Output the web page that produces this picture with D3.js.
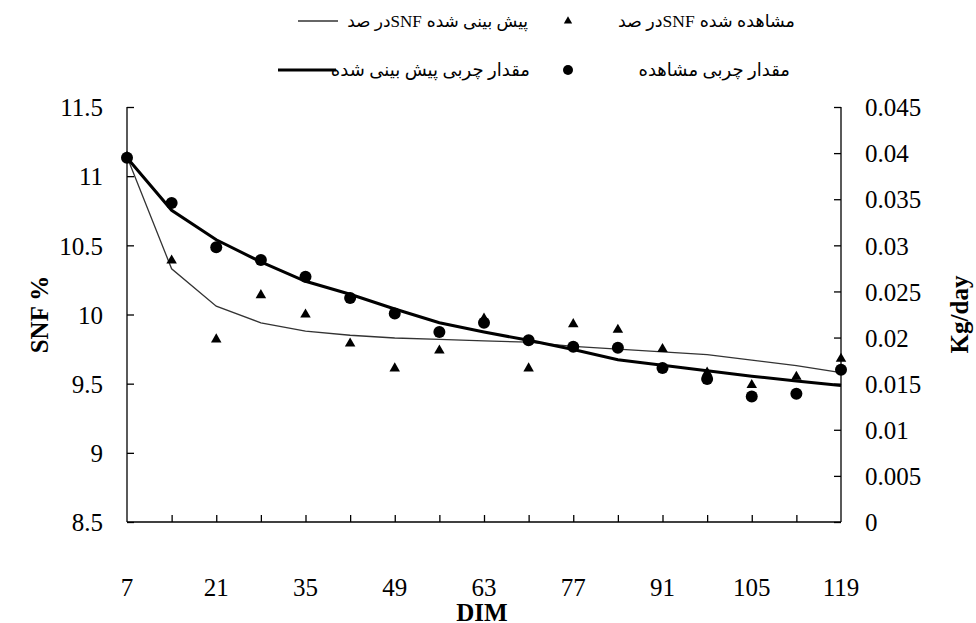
<!DOCTYPE html>
<html><head><meta charset="utf-8">
<script src="https://cdn.jsdelivr.net/npm/d3@7"></script>
<style>
body{margin:0;background:#fff}
svg text{font-family:"Liberation Serif","Times New Roman","DejaVu Sans",serif;fill:#000}
</style>
</head><body>
<svg id="chart" width="976" height="623"></svg>
<script>
// ---- data ----
const days = [7,14,21,28,35,42,49,56,63,70,77,84,91,98,105,112,119];
const snfObserved  = [11.14,10.39,9.82,10.14,10.0,9.79,9.61,9.74,9.97,9.61,9.93,9.89,9.75,9.58,9.49,9.55,9.68];
const snfPredicted = [11.14,10.33,10.06,9.94,9.88,9.85,9.83,9.82,9.81,9.80,9.77,9.75,9.73,9.71,9.67,9.63,9.58];
const fatObserved  = [0.0395,0.0346,0.0298,0.0284,0.0266,0.0243,0.0226,0.0206,0.0216,0.0197,0.0190,0.0189,0.0167,0.0155,0.0136,0.0139,0.0165];
const fatPredicted = [0.0395,0.0338,0.0306,0.0282,0.0261,0.0247,0.0231,0.0216,0.0206,0.0197,0.0187,0.0176,0.0170,0.0164,0.0158,0.0153,0.0148];
const xTickValues = [14,21,28,35,42,49,56,63,70,77,84,91,98,105,112];
const xTickLabels = ["7","21","35","49","63","77","91","105","119"];
const yLeftTicks  = ["8.5","9","9.5","10","10.5","11","11.5"];
const yRightTicks = ["0","0.005","0.01","0.015","0.02","0.025","0.03","0.035","0.04","0.045"];
const legendLabels = ["مشاهده شده SNFدر صد","پیش بینی شده SNFدر صد","مقدار چربی مشاهده","مقدار چربی پیش بینی شده"];
const axisTitles = {left:"SNF %", right:"Kg/day", bottom:"DIM"};

// ---- layout ----
const L = 127, R = 841, T = 107, B = 522;
const svg = d3.select("#chart");
const x = d3.scaleLinear().domain([7,119]).range([L,R]);
const yL = d3.scaleLinear().domain([8.5,11.5]).range([B,T]);
const yR = d3.scaleLinear().domain([0,0.045]).range([B,T]);

// axes
const axisColor = "#000";
const leftAxis = d3.axisLeft(yL).tickValues(yLeftTicks.map(Number)).tickSize(-7).tickPadding(24)
  .tickFormat((d,i)=>yLeftTicks[i]);
const gl = svg.append("g").attr("transform",`translate(${L},0)`).call(leftAxis);
const rightAxis = d3.axisRight(yR).tickValues(yRightTicks.map(Number)).tickSize(-7).tickPadding(24)
  .tickFormat((d,i)=>yRightTicks[i]);
const gr = svg.append("g").attr("transform",`translate(${R},0)`).call(rightAxis);
const bottomAxis = d3.axisBottom(x).tickValues(xTickValues).tickSize(-7).tickFormat("");
const gb = svg.append("g").attr("transform",`translate(0,${B})`).call(bottomAxis);
[gl,gr,gb].forEach(g=>{
  g.select(".domain").attr("stroke",axisColor).attr("stroke-width",1.3);
  g.selectAll(".tick line").attr("stroke",axisColor).attr("stroke-width",1.3);
  g.selectAll("text").attr("font-size",25).attr("font-family","Liberation Serif").attr("fill","#000");
});
gl.select(".domain").attr("d",`M0,${B}V${T}`);
gr.select(".domain").attr("d",`M0,${B}V${T}`);
gb.select(".domain").attr("d",`M${L},0H${R}`);
gl.selectAll(".tick text").attr("dy","0.35em");
gr.selectAll(".tick text").attr("dy","0.35em");

// x tick labels (every 14 days)
svg.append("g").selectAll("text").data(xTickLabels).join("text")
  .attr("x",d=>x(+d)).attr("y",B+74).attr("text-anchor","middle")
  .attr("font-size",25).text(d=>d);

// axis titles
svg.append("text").attr("transform",`translate(48,${(T+B)/2}) rotate(-90)`)
  .attr("text-anchor","middle").attr("font-size",25).attr("font-weight","bold").text(axisTitles.left);
svg.append("text").attr("transform",`translate(968,${(T+B)/2}) rotate(-90)`)
  .attr("text-anchor","middle").attr("font-size",25).attr("font-weight","bold").text(axisTitles.right);
svg.append("text").attr("x",482).attr("y",621).attr("text-anchor","middle")
  .attr("font-size",25).attr("font-weight","bold").text(axisTitles.bottom);

// series
const lineL = d3.line().x((d,i)=>x(days[i])).y(d=>yL(d));
const lineR = d3.line().x((d,i)=>x(days[i])).y(d=>yR(d));
svg.append("path").datum(snfPredicted).attr("d",lineL).attr("fill","none")
  .attr("stroke","#333").attr("stroke-width",1.3);
const tri = d3.symbol().type(d3.symbolTriangle).size(48);
svg.append("g").selectAll("path").data(snfObserved).join("path")
  .attr("d",tri).attr("transform",(d,i)=>`translate(${x(days[i])},${yL(d)})`).attr("fill","#000");
svg.append("path").datum(fatPredicted).attr("d",lineR).attr("fill","none")
  .attr("stroke","#000").attr("stroke-width",3);
svg.append("g").selectAll("circle").data(fatObserved).join("circle")
  .attr("cx",(d,i)=>x(days[i])).attr("cy",d=>yR(d)).attr("r",6).attr("fill","#000");

// legend
const lg = svg.append("g").attr("font-size",18);
// Mixed Persian/Latin labels: right-to-left paragraph, laid out piece by piece
function mixedLabel(label, xRight, y, size){
  const g = lg.append("g").attr("font-size",size);
  const m = label.match(/^(.*?)\s*(SNF)(.*)$/);
  if(!m){ g.append("text").attr("x",xRight).attr("y",y).attr("text-anchor","end").text(label); return; }
  const [ , a, b, c] = m;
  const ta = g.append("text").attr("x",xRight).attr("y",y).attr("text-anchor","end").text(a.trim());
  const wa = ta.node().getComputedTextLength();
  const tb = g.append("text").attr("x",xRight-wa-5).attr("y",y).attr("text-anchor","end").text(b);
  const wb = tb.node().getComputedTextLength();
  g.append("text").attr("x",xRight-wa-5-wb).attr("y",y).attr("text-anchor","end").text(c.trim());
}
// row 1
lg.append("path").attr("d",d3.symbol().type(d3.symbolTriangle).size(30)()).attr("transform","translate(568,21)").attr("fill","#000");
mixedLabel(legendLabels[0],795,27,17.5);
lg.append("line").attr("x1",298).attr("x2",338).attr("y1",21).attr("y2",21).attr("stroke","#333").attr("stroke-width",1.3);
mixedLabel(legendLabels[1],528,27,17);
// row 2
lg.append("circle").attr("cx",568).attr("cy",70).attr("r",5).attr("fill","#000");
lg.append("text").attr("x",790).attr("y",76).attr("text-anchor","end").text(legendLabels[2]);
lg.append("line").attr("x1",278).attr("x2",336).attr("y1",70).attr("y2",70).attr("stroke","#000").attr("stroke-width",3);
lg.append("text").attr("x",530).attr("y",76).attr("text-anchor","end").text(legendLabels[3]);
</script>
</body></html>
